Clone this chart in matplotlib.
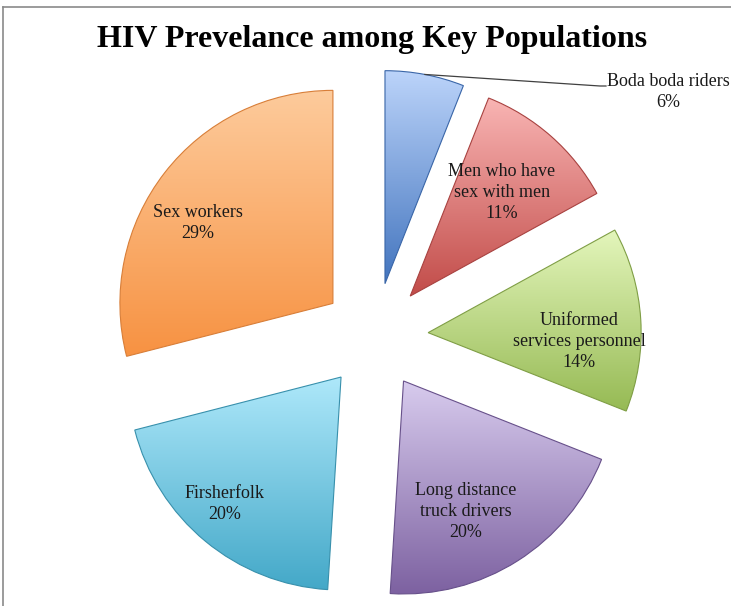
import numpy as np
import matplotlib.pyplot as plt
from matplotlib.colors import to_rgba
from matplotlib.lines import Line2D

groups = ["Boda boda riders", "Men who have\nsex with men", "Uniformed\nservices personnel",
          "Long distance\ntruck drivers", "Firsherfolk", "Sex workers"]
shares = [6, 11, 14, 20, 20, 29]

top_colors = ["#BCD4FA", "#F9B5B4", "#E4F6BC", "#D8CCEE", "#AEE8FA", "#FDCB9C"]
bottom_colors = ["#4274BE", "#C24C49", "#96BA54", "#7C60A0", "#43A8C8", "#F79242"]
edge_colors = ["#3A66A8", "#A84240", "#7F9E45", "#67508A", "#3890AC", "#D87E38"]

# label distance (in radii from the wedge tip) and angle nudge (deg, clockwise)
label_dist = [None, 0.65, 0.71, 0.68, 0.81, 0.74]
label_nudge = [0, 0, 7, 7, 3, -7]

W, H = 731, 606
R = 213.0          # pie radius in pixels
cx, cy = 375, 336  # pie centre in pixels (from top-left)

plt.rcParams["font.family"] = ["Liberation Serif", "DejaVu Serif"]

fig = plt.figure(figsize=(W / 100, H / 100), dpi=100)
ax = fig.add_axes([0, 0, 1, 1])

wedges, _ = ax.pie(shares, startangle=90, counterclock=False, radius=1,
                   explode=[0.25] * len(shares), wedgeprops=dict(linewidth=0.8))

ax.set_xlim(-cx / R, (W - cx) / R)
ax.set_ylim((cy - H) / R, cy / R)
ax.set_aspect("auto")
ax.axis("off")

# vertical gradient fill clipped to each wedge
for w, c0, c1, ec in zip(wedges, top_colors, bottom_colors, edge_colors):
    verts = w.get_patch_transform().transform(w.get_path().vertices)
    x0, y0 = verts.min(axis=0)
    x1, y1 = verts.max(axis=0)
    t = np.linspace(0, 1, 256)[:, None]
    grad = (1 - t) * np.array(to_rgba(c0)) + t * np.array(to_rgba(c1))
    im = ax.imshow(grad[:, None, :], extent=(x0, x1, y0, y1), origin="upper",
                   aspect="auto", interpolation="bilinear", zorder=1)
    im.set_clip_path(w)
    w.set_facecolor("none")
    w.set_edgecolor(ec)
    w.set_zorder(2)

# data labels
for i, w in enumerate(wedges):
    pct = f"{shares[i]}%"
    mid = np.deg2rad((w.theta1 + w.theta2) / 2)
    tipx, tipy = w.center
    if label_dist[i] is None:
        # outside label with leader line from the arc
        ax_, ay_ = tipx + np.cos(mid), tipy + np.sin(mid)
        ex, ey = (600 - cx) / R, (cy - 86) / R
        ax.add_line(Line2D([ax_, ex, ex + 6 / R], [ay_, ey, ey],
                           color="#404040", lw=0.9, zorder=3))
        ax.text((668 - cx) / R, (cy - 92) / R, groups[i] + "\n" + pct,
                ha="center", va="center", fontsize=13, color="#1a1a1a",
                linespacing=1.3, zorder=4)
        continue
    ang = mid - np.deg2rad(label_nudge[i])
    d = label_dist[i]
    ax.text(tipx + d * np.cos(ang), tipy + d * np.sin(ang), groups[i] + "\n" + pct,
            ha="center", va="center", fontsize=13, color="#1a1a1a",
            linespacing=1.3, zorder=4)

fig.text(372 / W, 1 - 40 / H, "HIV Prevelance among Key Populations",
         ha="center", va="center", fontsize=23, fontweight="bold", color="#000000")

# chart area border (top and left edges)
fig.add_artist(Line2D([3 / W, 1], [1 - 7 / H, 1 - 7 / H], transform=fig.transFigure,
                      color="#8a8a8a", lw=1.2))
fig.add_artist(Line2D([3 / W, 3 / W], [0, 1 - 7 / H], transform=fig.transFigure,
                      color="#8a8a8a", lw=1.2))

fig.savefig("out.png", dpi=100)
